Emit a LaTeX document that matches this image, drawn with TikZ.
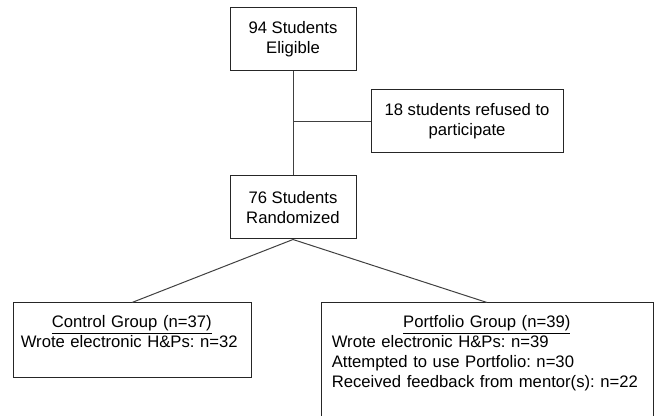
\documentclass[tikz,border=0pt]{standalone}
\usepackage{fontspec}
\setmainfont{Liberation Sans}
\frenchspacing
\begin{document}
\begin{tikzpicture}[x=0.75pt,y=-0.75pt,
  box/.style={draw=black!85, line width=0.75pt, inner sep=0pt},
  link/.style={draw=black!75, line width=0.75pt},
  txt/.style={font=\fontsize{12.5pt}{15pt}\selectfont}]
\useasboundingbox (0,0) rectangle (657,416);
\clip (0,0) rectangle (657,416);
\node[box, txt, minimum width=94.5pt, minimum height=47.25pt, align=center] (elig) at (293,39.5) {94 Students\\Eligible};
\node[box, txt, minimum width=144pt, minimum height=47.25pt, align=center] (refused) at (467,121.5) {18 students refused to\\participate};
\node[box, txt, minimum width=94.5pt, minimum height=47.25pt, align=center] (rand) at (293,207.5) {76 Students\\Randomized};
\node[box, minimum width=178.5pt, minimum height=56.25pt] (ctrl) at (132,340.5) {};
\node[box, minimum width=249pt, minimum height=95.25pt] (port) at (487,366.5) {};
\node[txt, anchor=north west, inner sep=0pt, text width=166.5pt, align=left] (ctrltxt) at ([shift={(8,13)}]ctrl.north west)
  {\makebox[\linewidth]{\underline{Control Group (n=37)}}\\Wrote electronic H\&Ps: n=32};
\node[txt, anchor=north west, inner sep=0pt, text width=232.5pt, align=left] (porttxt) at ([shift={(11,13)}]port.north west)
  {\makebox[\linewidth]{\underline{Portfolio Group (n=39)}}\\Wrote electronic H\&Ps: n=39\\Attempted to use Portfolio: n=30\\Received feedback from mentor(s): n=22};
\draw[link] (elig.south) -- (rand.north);
\draw[link] (refused.west) -- (elig.south |- refused.west);
\draw[link] (rand.south) -- (ctrl.north);
\draw[link] (rand.south) -- (port.north);
\end{tikzpicture}
\end{document}
